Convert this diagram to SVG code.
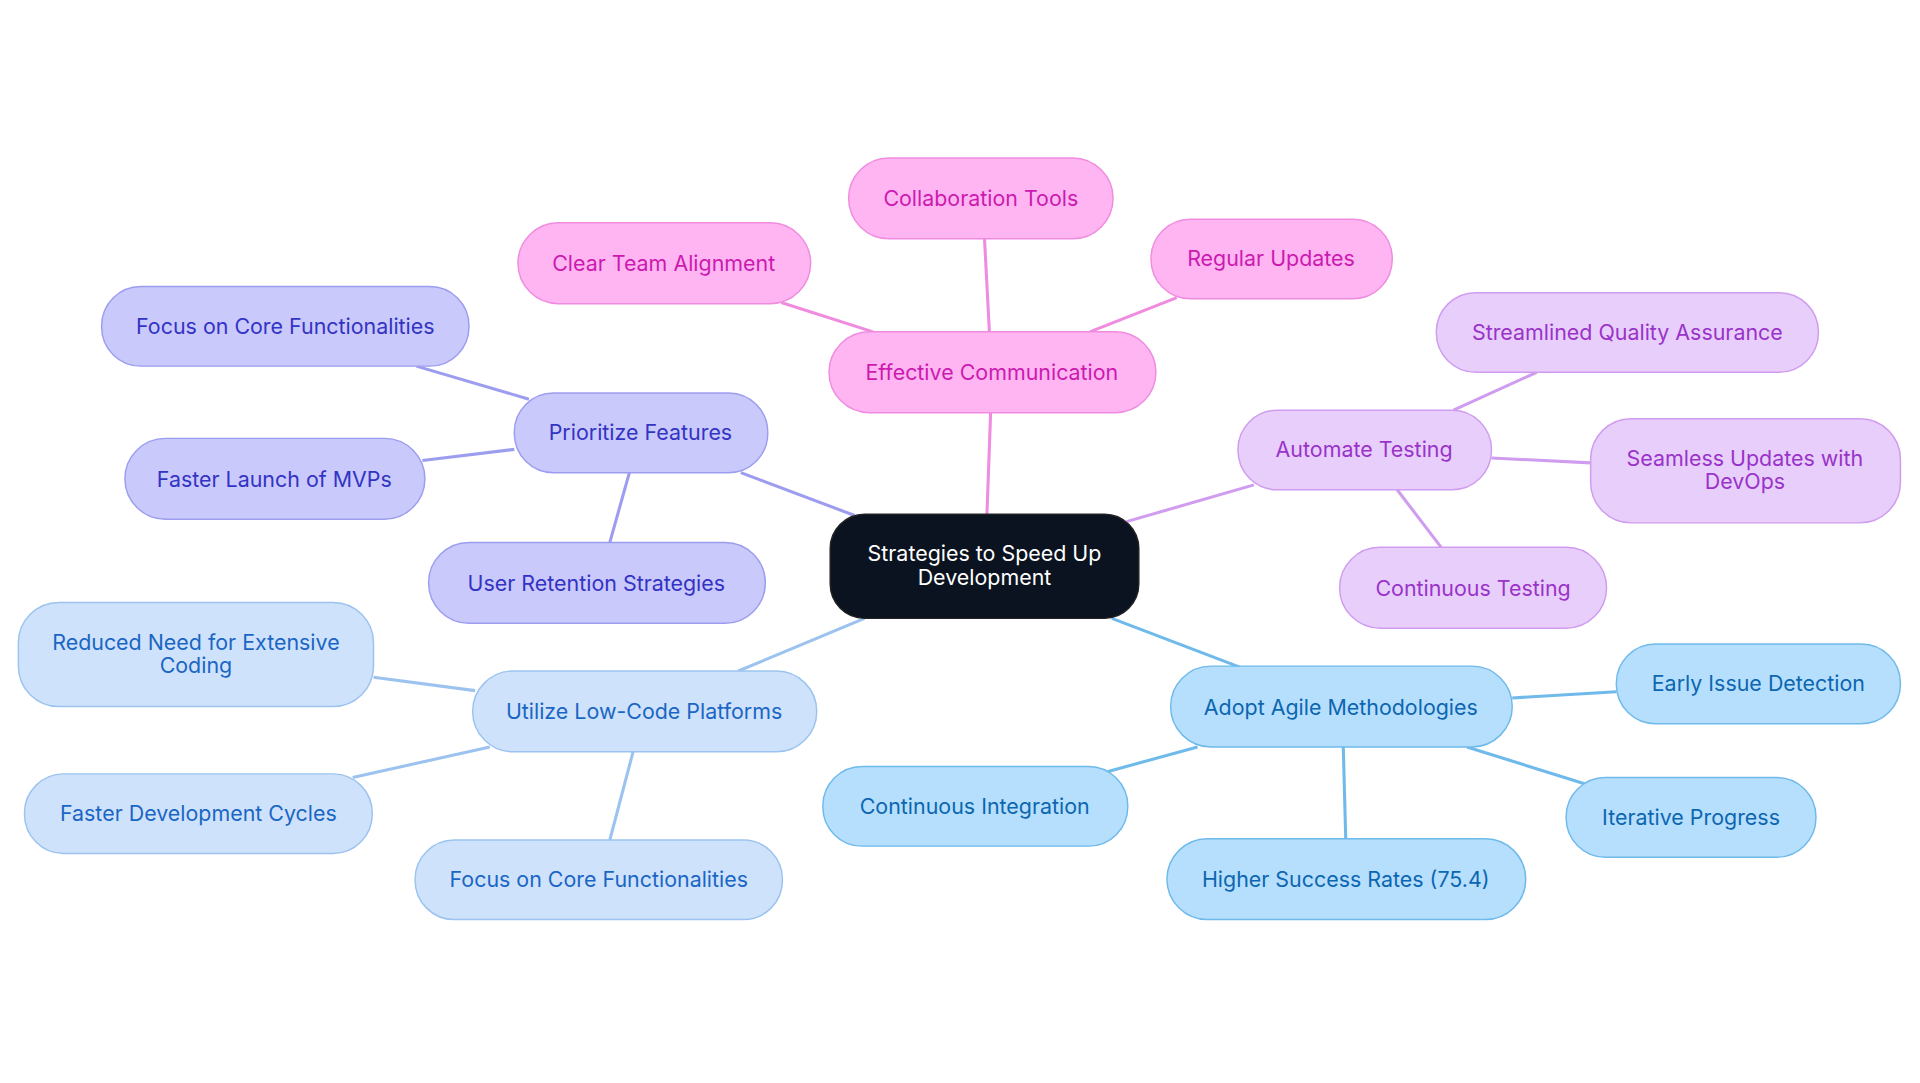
<svg xmlns="http://www.w3.org/2000/svg" width="1920" height="1083" viewBox="0 0 1920 1083">
<style>
text{font-family:Inter,"Open Sans","Liberation Sans",sans-serif;font-size:17.5px;text-anchor:middle;dominant-baseline:central}
rect{stroke-width:1.2}
.pk rect{fill:#ffb5f2;stroke:#f08ce0}.pk text{fill:#cc1ab0}
.vi rect{fill:#c9c9fb;stroke:#9d9df0}.vi text{fill:#3333c4}
.lb rect{fill:#cfe2fb;stroke:#9cc3ef}.lb text{fill:#1a66c4}
.sk rect{fill:#b5dffd;stroke:#6fbaea}.sk text{fill:#0d66b0}
.pu rect{fill:#e8cefb;stroke:#d09cef}.pu text{fill:#9933c9}
#edges line{stroke-width:2.5;fill:none}
</style>
<rect width="1920" height="1083" fill="#fff"/>
<g transform="scale(1.2245)">
<g id="edges">
<g stroke="#f08ce0"><line x1="806" y1="420" x2="809" y2="337"/><line x1="808" y1="271" x2="804" y2="195"/><line x1="713" y1="271" x2="638" y2="247"/><line x1="890" y1="271" x2="961" y2="243"/></g>
<g stroke="#9d9df0"><line x1="698" y1="421" x2="605" y2="386"/><line x1="432" y1="326" x2="340" y2="299"/><line x1="420" y1="367" x2="345" y2="376"/><line x1="514" y1="386" x2="498" y2="443"/></g>
<g stroke="#d09cef"><line x1="920" y1="426" x2="1024" y2="396"/><line x1="1187" y1="335" x2="1255" y2="304"/><line x1="1218" y1="374" x2="1299" y2="378"/><line x1="1141" y1="400" x2="1177" y2="447"/></g>
<g stroke="#9cc3ef"><line x1="706" y1="505" x2="603" y2="548"/><line x1="388" y1="564" x2="305" y2="553"/><line x1="400" y1="610" x2="288" y2="635"/><line x1="517" y1="614" x2="498" y2="686"/></g>
<g stroke="#6fbaea"><line x1="908" y1="505" x2="1013" y2="545"/><line x1="1235" y1="570" x2="1320" y2="565"/><line x1="1198" y1="610" x2="1294" y2="640"/><line x1="1097" y1="610" x2="1099" y2="685"/><line x1="978" y1="610" x2="905" y2="630"/></g>
</g>
<g id="center"><rect x="678" y="420" width="252" height="85" rx="28" fill="#0b1320" stroke="#222"/><text x="804" y="452" fill="#fff">Strategies to Speed Up</text><text x="804" y="471" fill="#fff">Development</text></g>
<g id="ec" class="pk"><rect x="677" y="271" width="267" height="66" rx="33"/><text x="810" y="304">Effective Communication</text></g>
<g id="ct" class="pk"><rect x="693" y="129" width="216" height="66" rx="33"/><text x="801" y="162">Collaboration Tools</text></g>
<g id="cta" class="pk"><rect x="423" y="182" width="239" height="66" rx="33"/><text x="542" y="215">Clear Team Alignment</text></g>
<g id="ru" class="pk"><rect x="940" y="179" width="197" height="65" rx="32"/><text x="1038" y="211">Regular Updates</text></g>
<g id="pf" class="vi"><rect x="420" y="321" width="207" height="65" rx="32"/><text x="523" y="353">Prioritize Features</text></g>
<g id="fcf1" class="vi"><rect x="83" y="234" width="300" height="65" rx="32"/><text x="233" y="266">Focus on Core Functionalities</text></g>
<g id="flm" class="vi"><rect x="102" y="358" width="245" height="66" rx="33"/><text x="224" y="391">Faster Launch of MVPs</text></g>
<g id="urs" class="vi"><rect x="350" y="443" width="275" height="66" rx="33"/><text x="487" y="476">User Retention Strategies</text></g>
<g id="ulc" class="lb"><rect x="386" y="548" width="281" height="66" rx="33"/><text x="526" y="581">Utilize Low-Code Platforms</text></g>
<g id="rn" class="lb"><rect x="15" y="492" width="290" height="85" rx="33"/><text x="160" y="524">Reduced Need for Extensive</text><text x="160" y="543">Coding</text></g>
<g id="fdc" class="lb"><rect x="20" y="632" width="284" height="65" rx="32"/><text x="162" y="664">Faster Development Cycles</text></g>
<g id="fcf2" class="lb"><rect x="339" y="686" width="300" height="65" rx="32"/><text x="489" y="718">Focus on Core Functionalities</text></g>
<g id="aam" class="sk"><rect x="956" y="544" width="279" height="66" rx="33"/><text x="1095" y="577">Adopt Agile Methodologies</text></g>
<g id="eid" class="sk"><rect x="1320" y="526" width="232" height="65" rx="32"/><text x="1436" y="558">Early Issue Detection</text></g>
<g id="ip" class="sk"><rect x="1279" y="635" width="204" height="65" rx="32"/><text x="1381" y="667">Iterative Progress</text></g>
<g id="hsr" class="sk"><rect x="953" y="685" width="293" height="66" rx="33"/><text x="1099" y="718">Higher Success Rates (75.4)</text></g>
<g id="ci" class="sk"><rect x="672" y="626" width="249" height="65" rx="32"/><text x="796" y="658">Continuous Integration</text></g>
<g id="at" class="pu"><rect x="1011" y="335" width="207" height="65" rx="32"/><text x="1114" y="367">Automate Testing</text></g>
<g id="sqa" class="pu"><rect x="1173" y="239" width="312" height="65" rx="32"/><text x="1329" y="271">Streamlined Quality Assurance</text></g>
<g id="sud" class="pu"><rect x="1299" y="342" width="253" height="85" rx="33"/><text x="1425" y="374">Seamless Updates with</text><text x="1425" y="393">DevOps</text></g>
<g id="cte" class="pu"><rect x="1094" y="447" width="218" height="66" rx="33"/><text x="1203" y="480">Continuous Testing</text></g>
</g>
</svg>
